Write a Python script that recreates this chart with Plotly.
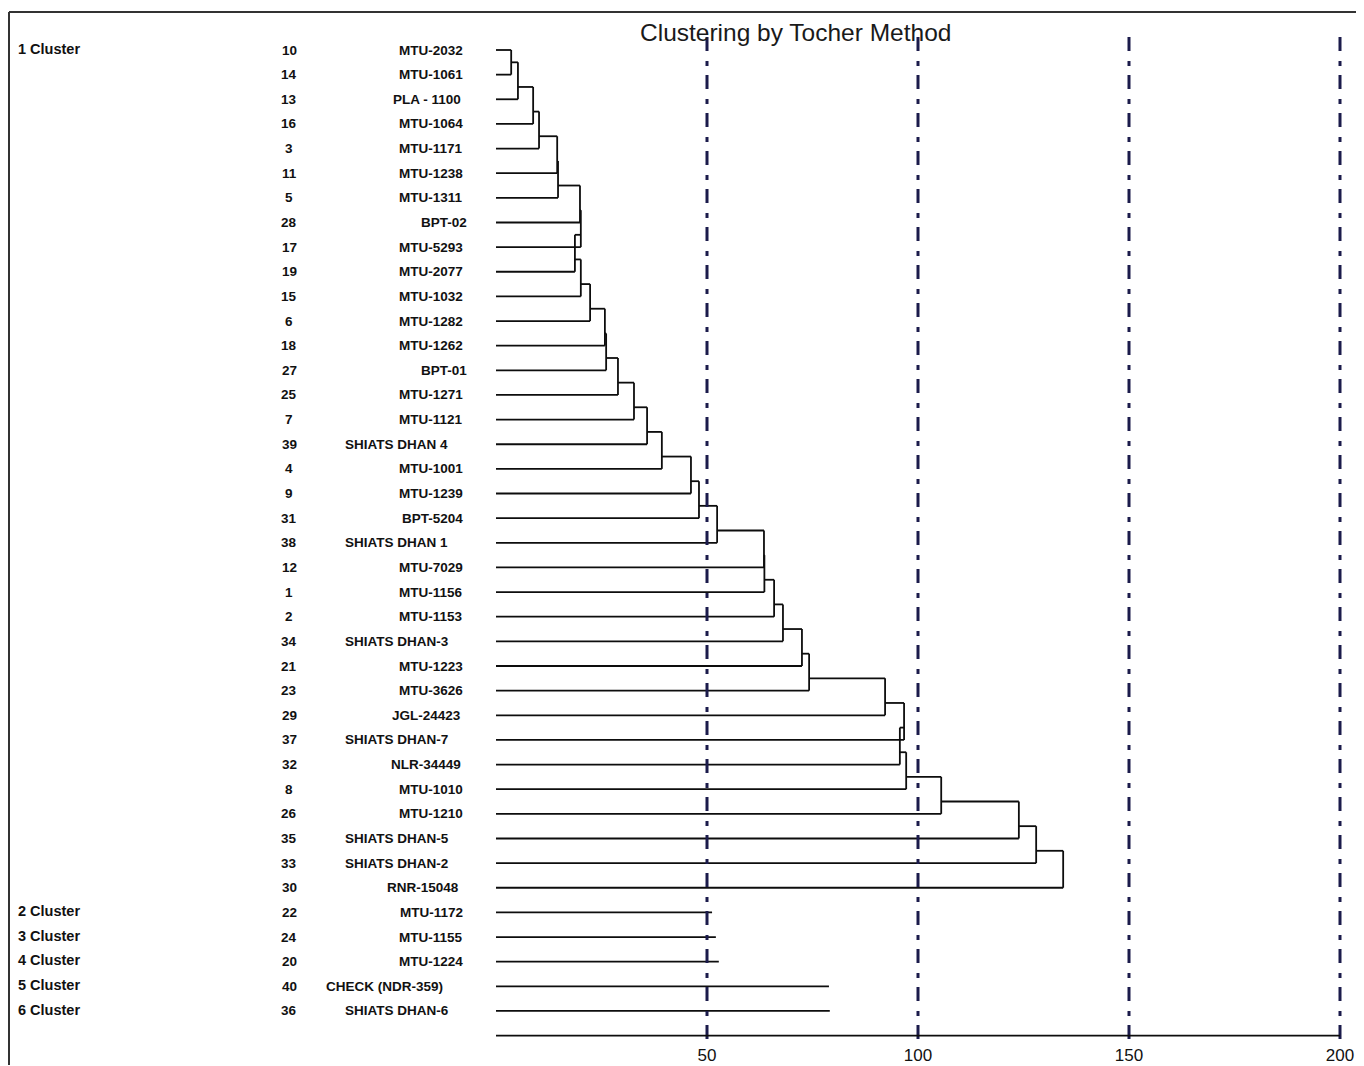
import plotly.graph_objects as go

# ---------------- data ----------------
names = ["MTU-2032", "MTU-1061", "PLA - 1100", "MTU-1064", "MTU-1171", "MTU-1238",
         "MTU-1311", "BPT-02", "MTU-5293", "MTU-2077", "MTU-1032", "MTU-1282",
         "MTU-1262", "BPT-01", "MTU-1271", "MTU-1121", "SHIATS DHAN 4", "MTU-1001",
         "MTU-1239", "BPT-5204", "SHIATS DHAN 1", "MTU-7029", "MTU-1156", "MTU-1153",
         "SHIATS DHAN-3", "MTU-1223", "MTU-3626", "JGL-24423", "SHIATS DHAN-7",
         "NLR-34449", "MTU-1010", "MTU-1210", "SHIATS DHAN-5", "SHIATS DHAN-2",
         "RNR-15048", "MTU-1172", "MTU-1155", "MTU-1224", "CHECK (NDR-359)",
         "SHIATS DHAN-6"]
genotype_ids = [10, 14, 13, 16, 3, 11, 5, 28, 17, 19, 15, 6, 18, 27, 25, 7, 39, 4, 9, 31,
                38, 12, 1, 2, 34, 21, 23, 29, 37, 32, 8, 26, 35, 33, 30, 22, 24, 20, 40, 36]
cluster_names = ["1 Cluster", "2 Cluster", "3 Cluster", "4 Cluster", "5 Cluster", "6 Cluster"]
cluster_sizes = [35, 1, 1, 1, 1, 1]
# fusion level at which genotypes 2..35 of cluster 1 join the growing cluster
join_heights = [3.6, 5.2, 8.8, 10.2, 14.5, 14.7, 19.9, 20.1, 18.7, 20.1, 22.3,
                25.8, 26.1, 28.9, 32.7, 35.8, 39.3, 46.2, 48.1, 52.4, 63.5,
                63.6, 65.9, 68.0, 72.5, 74.2, 92.2, 96.7, 95.7, 97.2, 105.5,
                123.9, 128.0, 134.4]
# line lengths of the single-member clusters 2..6
single_heights = [51.2, 52.1, 52.8, 78.9, 79.1]
reference_levels = [50, 100, 150, 200]
tick_labels = ["50", "100", "150", "200"]

# ---------------- geometry (derived from data) ----------------
xs, ys = [], []


def seg(x0, y0, x1, y1):
    xs.extend([x0, x1, None])
    ys.extend([y0, y1, None])


n1 = cluster_sizes[0]
seg(0, 1, join_heights[0], 1)
for k in range(2, n1 + 1):
    h = join_heights[k - 2]
    seg(0, k, h, k)
    prev_out = 1 if k == 2 else ((k - 2) + (k - 1)) / 2
    seg(h, prev_out, h, k)
    if k < n1:
        out = ((k - 1) + k) / 2
        seg(h, out, join_heights[k - 1], out)
for i, h in enumerate(single_heights):
    r = n1 + 1 + i
    seg(0, r, h, r)

axis_row = len(names) + 1

fig = go.Figure()
fig.add_trace(go.Scatter(x=xs, y=ys, mode="lines",
                         line=dict(color="#0d0d0d", width=1.8),
                         hoverinfo="skip", showlegend=False))

# ---------------- layout ----------------
# the page body adds an 8px offset; figure pixels = page pixels - 8
OFF = 8
W, H = 1356, 1058
ML, MR, MT, MB = 0, 0, 0, 23
px_per_unit = 4.22
x0_px = 496 - OFF
x_min = -x0_px / px_per_unit
x_max = (W - x0_px) / px_per_unit
row_px = 24.64
row1_px = 50 - OFF
plot_h = H - MT - MB
y_top = 1 - row1_px / row_px
y_bot = 1 + (plot_h - row1_px) / row_px

font_family = "Liberation Sans, Arial, sans-serif"

shapes = []
dash_color = "#1b1b4b"
for lv in reference_levels:
    shapes.append(dict(type="line", xref="x", yref="y", x0=lv, x1=lv,
                       y0=1 + (37 - 50) / row_px, y1=axis_row + 0.2,
                       line=dict(color=dash_color, width=3, dash="14px,10px,5px,9px")))
# baseline axis
shapes.append(dict(type="line", xref="x", yref="y", x0=0, x1=max(reference_levels),
                   y0=axis_row, y1=axis_row, line=dict(color="#0d0d0d", width=1.8)))
# frame
fx = (9 - OFF) / W
fy_top = 1 - (12 - OFF) / plot_h
shapes.append(dict(type="line", xref="paper", yref="paper", x0=fx, x1=1.0,
                   y0=fy_top, y1=fy_top, line=dict(color="#333333", width=2)))
shapes.append(dict(type="line", xref="paper", yref="paper", x0=fx, x1=fx,
                   y0=fy_top, y1=1 - (H - 1) / plot_h, line=dict(color="#333333", width=2)))

annotations = []


def px_to_x(p):
    return (p - OFF - x0_px) / px_per_unit


x_cluster = px_to_x(16)
x_id = px_to_x(289)
# label placement style: most names end at the same right edge, a few are
# set at a common left start as in the original layout
default_right = 465
right_edge_override = {"BPT-02": 469, "BPT-01": 469, "PLA - 1100": 463,
                       "JGL-24423": 463, "NLR-34449": 463, "RNR-15048": 461}
left_start_names = {"SHIATS DHAN 4": 343, "SHIATS DHAN 1": 343, "SHIATS DHAN-3": 343,
                    "SHIATS DHAN-7": 343, "SHIATS DHAN-5": 343, "SHIATS DHAN-2": 343,
                    "SHIATS DHAN-6": 343, "CHECK (NDR-359)": 324}
lab_font = dict(family=font_family, size=13.5, color="#111111", weight="bold")
for i, (nm, gid) in enumerate(zip(names, genotype_ids)):
    r = i + 1
    annotations.append(dict(x=x_id, y=r, xref="x", yref="y", text=str(gid),
                            showarrow=False, xanchor="center", yanchor="middle",
                            font=lab_font))
    if nm in left_start_names:
        annotations.append(dict(x=px_to_x(left_start_names[nm]), y=r, xref="x", yref="y",
                                text=nm, showarrow=False, xanchor="left",
                                yanchor="middle", font=lab_font))
    else:
        annotations.append(dict(x=px_to_x(right_edge_override.get(nm, default_right)), y=r,
                                xref="x", yref="y", text=nm, showarrow=False,
                                xanchor="right", yanchor="middle", font=lab_font))
start = 1
for cn, sz in zip(cluster_names, cluster_sizes):
    annotations.append(dict(x=x_cluster, y=start - 0.05, xref="x", yref="y", text=cn,
                            showarrow=False, xanchor="left", yanchor="middle",
                            font=dict(family=font_family, size=14.5, color="#111111",
                                      weight="bold")))
    start += sz

annotations.append(dict(x=(795 - OFF) / W, y=1 - (32 - OFF) / plot_h,
                        xref="paper", yref="paper",
                        text="Clustering by Tocher Method", showarrow=False,
                        xanchor="center", yanchor="middle",
                        font=dict(family=font_family, size=24.5, color="#1a1a1a")))

fig.update_layout(
    width=W, height=H,
    margin=dict(l=ML, r=MR, t=MT, b=MB, pad=0),
    paper_bgcolor="white", plot_bgcolor="white",
    shapes=shapes, annotations=annotations,
    showlegend=False,
    xaxis=dict(range=[x_min, x_max], showgrid=False, zeroline=False, showline=False,
               tickmode="array", tickvals=reference_levels, ticktext=tick_labels,
               ticks="", tickfont=dict(family=font_family, size=17, color="#111111"),
               fixedrange=True),
    yaxis=dict(range=[y_bot, y_top], showgrid=False, zeroline=False, showline=False,
               showticklabels=False, ticks="", fixedrange=True),
)

fig.write_html("out.html")
